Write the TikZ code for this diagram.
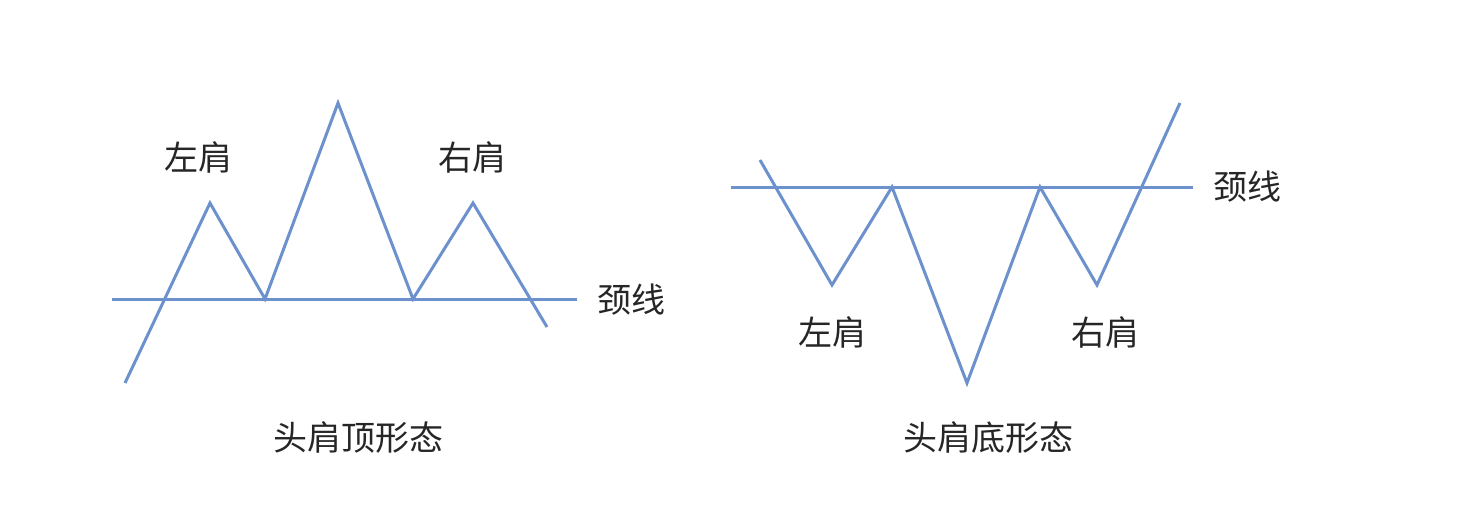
\documentclass[tikz,border=0pt]{standalone}
\usepackage{fontspec}
\newfontfamily\cjk{Noto Sans CJK SC}
\definecolor{lineblue}{RGB}{108,145,205}
\begin{document}
\begin{tikzpicture}[x=0.5pt,y=-0.5pt,
  trend/.style={draw=lineblue,line width=1.5pt,line join=miter},
  lbl/.style={font=\cjk\fontsize{17}{19}\selectfont,text=black!85,inner sep=0pt}]
\useasboundingbox (0,0) rectangle (1464,526);
% left: head and shoulders top
\coordinate (a0) at (125,383);
\coordinate (a1) at (210,203);
\coordinate (a2) at (265,299);
\coordinate (a3) at (338,103);
\coordinate (a4) at (413,299);
\coordinate (a5) at (473,203);
\coordinate (a6) at (547,327);
\coordinate (n1s) at (112,299);
\coordinate (n1e) at (577,299);
\draw[trend] (n1s) -- (n1e);
\draw[trend] (a0) -- (a1) -- (a2) -- (a3) -- (a4) -- (a5) -- (a6);
\node[lbl] (l1) at (198,157) {左肩};
\node[lbl] (r1) at (472,157) {右肩};
\node[lbl] (k1) at (631,300) {颈线};
\node[lbl] (t1) at (358,437) {头肩顶形态};
% right: head and shoulders bottom
\coordinate (b0) at (760,160);
\coordinate (b1) at (832,285);
\coordinate (b2) at (892,187);
\coordinate (b3) at (967,383);
\coordinate (b4) at (1040,187);
\coordinate (b5) at (1097,285);
\coordinate (b6) at (1180,103);
\coordinate (n2s) at (731,187);
\coordinate (n2e) at (1193,187);
\draw[trend] (n2s) -- (n2e);
\draw[trend] (b0) -- (b1) -- (b2) -- (b3) -- (b4) -- (b5) -- (b6);
\node[lbl] (l2) at (832,332) {左肩};
\node[lbl] (r2) at (1105,332) {右肩};
\node[lbl] (k2) at (1247,187) {颈线};
\node[lbl] (t2) at (988,437) {头肩底形态};
\end{tikzpicture}
\end{document}
